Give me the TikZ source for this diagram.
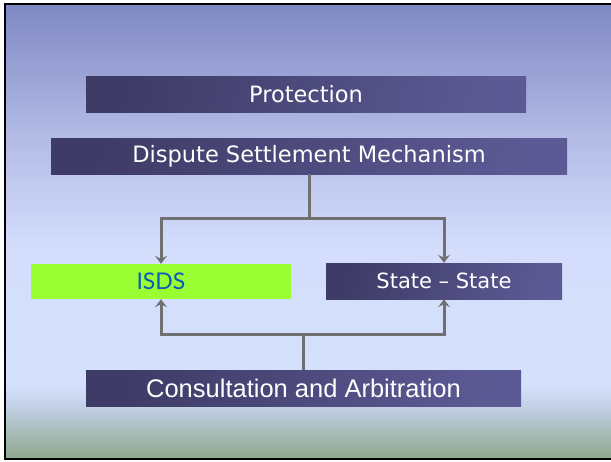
\documentclass[tikz,border=0pt]{standalone}
\usepackage{fontspec}
\usetikzlibrary{arrows.meta}
\newfontfamily\dvfont{DejaVu Sans}
\newfontfamily\libfont{Liberation Sans}
\newfontfamily\latofont{Lato}
\definecolor{bgA}{RGB}{128,136,196}
\definecolor{bgB}{RGB}{180,188,230}
\definecolor{bgC}{RGB}{212,222,252}
\definecolor{bgD}{RGB}{212,224,252}
\definecolor{bgE}{RGB}{192,206,226}
\definecolor{bgF}{RGB}{165,185,178}
\definecolor{bgG}{RGB}{142,166,142}
\definecolor{boxdark}{RGB}{62,59,102}
\definecolor{boxlight}{RGB}{92,90,148}
\definecolor{isdsgreen}{RGB}{153,255,51}
\definecolor{isdsblue}{RGB}{10,90,185}
\definecolor{conncol}{RGB}{112,112,112}
\pgfdeclareverticalshading{bgshade}{100bp}{color(0bp)=(bgG); color(25bp)=(bgG); color(27.5bp)=(bgF); color(30.5bp)=(bgE); color(33bp)=(bgD); color(48bp)=(bgC); color(60bp)=(bgB); color(75bp)=(bgA); color(100bp)=(bgA)}
\tikzset{
  darkbox/.style={rectangle, inner sep=0pt, text=white,
    left color=boxdark, right color=boxlight, shading angle=75},
  conn/.style={draw=conncol, line width=3pt},
  arr/.style={conn, -{Stealth[length=8pt,width=12pt,inset=3pt]}},
}
\begin{document}
\begin{tikzpicture}[x=1pt,y=-1pt]
\useasboundingbox (0,0) rectangle (611,461);
\shade[shading=bgshade] (5,4) rectangle (616,459);
\draw[line width=2pt, black] (5,4) rectangle (616,459);

\node[darkbox, minimum width=440, minimum height=36, font=\dvfont\fontsize{22.5}{26}\selectfont] (prot) at (306,94) {Protection};
\node[darkbox, minimum width=516, minimum height=36, font=\dvfont\fontsize{22.5}{26}\selectfont] (dsm) at (309,156) {Dispute Settlement Mechanism};
\node[rectangle, inner sep=0pt, fill=isdsgreen, text=isdsblue, minimum width=260, minimum height=35, font=\latofont\fontsize{23}{26}\selectfont] (isds) at (161,281.5) {ISDS};
\node[darkbox, minimum width=236, minimum height=36, font=\dvfont\fontsize{21}{24}\selectfont] (state) at (444,281) {State – State};
\node[darkbox, minimum width=435, minimum height=36, font=\libfont\fontsize{25.5}{28}\selectfont] (cons) at (303.5,388) {Consultation and Arbitration};

\coordinate (j1) at (dsm.south |- 0,218);
\coordinate (j2) at (cons.north |- 0,334);
\draw[conn] (dsm.south) -- (j1);
\draw[arr] (j1) -| (isds.north);
\draw[arr] (j1) -| (state.north);
\draw[conn] (cons.north) -- (j2);
\draw[arr] (j2) -| (isds.south);
\draw[arr] (j2) -| (state.south);
\end{tikzpicture}
\end{document}
